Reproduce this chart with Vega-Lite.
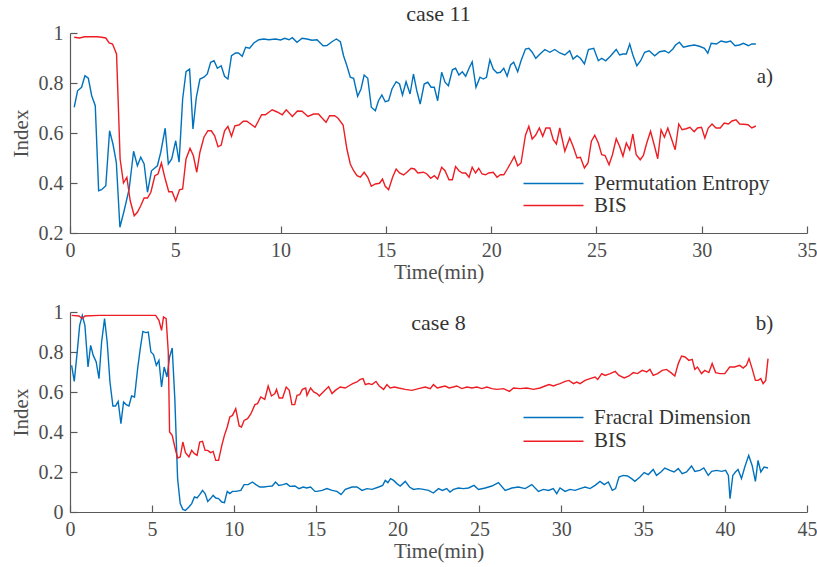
{
"$schema": "https://vega.github.io/schema/vega-lite/v6.json",
"padding": {"left": 10, "top": 3, "right": 0, "bottom": 2},
"config": {
  "font": "Liberation Serif",
  "view": {"stroke": null},
  "axis": {"grid": false, "domainColor": "#595959", "tickColor": "#595959", "domainWidth": 1.2, "tickWidth": 1.2, "tickSize": -7, "labelColor": "#4d4d4d", "labelFont": "Liberation Serif", "labelFontSize": 20, "titleFont": "Liberation Serif", "titleFontSize": 21, "titleFontWeight": "normal", "titleColor": "#4d4d4d", "labelPadding": 14, "titlePadding": 1, "labelOverlap": false, "labelFlush": false},
  "axisY": {"titlePadding": 7},
  "legend": {"labelFont": "Liberation Serif", "labelFontSize": 21, "labelColor": "#333333", "labelLimit": 400},
  "title": {"font": "Liberation Serif", "fontSize": 22, "fontWeight": "normal", "color": "#333333", "anchor": "middle", "frame": "group"},
  "text": {"font": "Liberation Serif"}
},
"datasets": {
"a": [
{"t":0.2,"v":0.703,"s":"Permutation Entropy"},{"t":0.36,"v":0.769,"s":"Permutation Entropy"},{"t":0.55,"v":0.783,"s":"Permutation Entropy"},{"t":0.71,"v":0.829,"s":"Permutation Entropy"},{"t":0.87,"v":0.819,"s":"Permutation Entropy"},{"t":1.03,"v":0.749,"s":"Permutation Entropy"},{"t":1.2,"v":0.709,"s":"Permutation Entropy"},{"t":1.36,"v":0.369,"s":"Permutation Entropy"},{"t":1.5,"v":0.373,"s":"Permutation Entropy"},{"t":1.7,"v":0.389,"s":"Permutation Entropy"},{"t":1.88,"v":0.609,"s":"Permutation Entropy"},{"t":2.04,"v":0.556,"s":"Permutation Entropy"},{"t":2.2,"v":0.483,"s":"Permutation Entropy"},{"t":2.37,"v":0.223,"s":"Permutation Entropy"},{"t":2.57,"v":0.289,"s":"Permutation Entropy"},{"t":2.81,"v":0.376,"s":"Permutation Entropy"},{"t":3.02,"v":0.527,"s":"Permutation Entropy"},{"t":3.2,"v":0.469,"s":"Permutation Entropy"},{"t":3.36,"v":0.503,"s":"Permutation Entropy"},{"t":3.52,"v":0.476,"s":"Permutation Entropy"},{"t":3.68,"v":0.363,"s":"Permutation Entropy"},{"t":3.87,"v":0.449,"s":"Permutation Entropy"},{"t":4.15,"v":0.469,"s":"Permutation Entropy"},{"t":4.31,"v":0.523,"s":"Permutation Entropy"},{"t":4.52,"v":0.619,"s":"Permutation Entropy"},{"t":4.67,"v":0.476,"s":"Permutation Entropy"},{"t":4.83,"v":0.496,"s":"Permutation Entropy"},{"t":5.02,"v":0.569,"s":"Permutation Entropy"},{"t":5.18,"v":0.483,"s":"Permutation Entropy"},{"t":5.35,"v":0.736,"s":"Permutation Entropy"},{"t":5.51,"v":0.845,"s":"Permutation Entropy"},{"t":5.68,"v":0.856,"s":"Permutation Entropy"},{"t":5.84,"v":0.616,"s":"Permutation Entropy"},{"t":6.0,"v":0.743,"s":"Permutation Entropy"},{"t":6.17,"v":0.816,"s":"Permutation Entropy"},{"t":6.36,"v":0.823,"s":"Permutation Entropy"},{"t":6.52,"v":0.836,"s":"Permutation Entropy"},{"t":6.68,"v":0.883,"s":"Permutation Entropy"},{"t":6.84,"v":0.889,"s":"Permutation Entropy"},{"t":7.0,"v":0.859,"s":"Permutation Entropy"},{"t":7.18,"v":0.869,"s":"Permutation Entropy"},{"t":7.34,"v":0.827,"s":"Permutation Entropy"},{"t":7.5,"v":0.816,"s":"Permutation Entropy"},{"t":7.67,"v":0.909,"s":"Permutation Entropy"},{"t":7.86,"v":0.92,"s":"Permutation Entropy"},{"t":8.0,"v":0.92,"s":"Permutation Entropy"},{"t":8.18,"v":0.907,"s":"Permutation Entropy"},{"t":8.34,"v":0.943,"s":"Permutation Entropy"},{"t":8.53,"v":0.939,"s":"Permutation Entropy"},{"t":8.73,"v":0.96,"s":"Permutation Entropy"},{"t":8.97,"v":0.973,"s":"Permutation Entropy"},{"t":9.2,"v":0.976,"s":"Permutation Entropy"},{"t":9.44,"v":0.973,"s":"Permutation Entropy"},{"t":9.76,"v":0.976,"s":"Permutation Entropy"},{"t":10.0,"v":0.972,"s":"Permutation Entropy"},{"t":10.2,"v":0.979,"s":"Permutation Entropy"},{"t":10.4,"v":0.973,"s":"Permutation Entropy"},{"t":10.56,"v":0.981,"s":"Permutation Entropy"},{"t":10.78,"v":0.963,"s":"Permutation Entropy"},{"t":11.02,"v":0.979,"s":"Permutation Entropy"},{"t":11.25,"v":0.976,"s":"Permutation Entropy"},{"t":11.49,"v":0.971,"s":"Permutation Entropy"},{"t":11.73,"v":0.973,"s":"Permutation Entropy"},{"t":12.02,"v":0.949,"s":"Permutation Entropy"},{"t":12.2,"v":0.95,"s":"Permutation Entropy"},{"t":12.44,"v":0.965,"s":"Permutation Entropy"},{"t":12.65,"v":0.976,"s":"Permutation Entropy"},{"t":12.84,"v":0.965,"s":"Permutation Entropy"},{"t":12.99,"v":0.909,"s":"Permutation Entropy"},{"t":13.15,"v":0.869,"s":"Permutation Entropy"},{"t":13.31,"v":0.823,"s":"Permutation Entropy"},{"t":13.47,"v":0.819,"s":"Permutation Entropy"},{"t":13.66,"v":0.747,"s":"Permutation Entropy"},{"t":13.82,"v":0.776,"s":"Permutation Entropy"},{"t":13.97,"v":0.832,"s":"Permutation Entropy"},{"t":14.14,"v":0.819,"s":"Permutation Entropy"},{"t":14.31,"v":0.703,"s":"Permutation Entropy"},{"t":14.5,"v":0.689,"s":"Permutation Entropy"},{"t":14.65,"v":0.729,"s":"Permutation Entropy"},{"t":14.81,"v":0.752,"s":"Permutation Entropy"},{"t":14.97,"v":0.725,"s":"Permutation Entropy"},{"t":15.13,"v":0.729,"s":"Permutation Entropy"},{"t":15.29,"v":0.776,"s":"Permutation Entropy"},{"t":15.49,"v":0.805,"s":"Permutation Entropy"},{"t":15.65,"v":0.796,"s":"Permutation Entropy"},{"t":15.79,"v":0.752,"s":"Permutation Entropy"},{"t":15.96,"v":0.805,"s":"Permutation Entropy"},{"t":16.15,"v":0.756,"s":"Permutation Entropy"},{"t":16.31,"v":0.836,"s":"Permutation Entropy"},{"t":16.47,"v":0.769,"s":"Permutation Entropy"},{"t":16.63,"v":0.716,"s":"Permutation Entropy"},{"t":16.82,"v":0.796,"s":"Permutation Entropy"},{"t":16.99,"v":0.803,"s":"Permutation Entropy"},{"t":17.15,"v":0.783,"s":"Permutation Entropy"},{"t":17.3,"v":0.783,"s":"Permutation Entropy"},{"t":17.46,"v":0.729,"s":"Permutation Entropy"},{"t":17.65,"v":0.843,"s":"Permutation Entropy"},{"t":17.81,"v":0.803,"s":"Permutation Entropy"},{"t":17.97,"v":0.789,"s":"Permutation Entropy"},{"t":18.16,"v":0.853,"s":"Permutation Entropy"},{"t":18.31,"v":0.859,"s":"Permutation Entropy"},{"t":18.47,"v":0.832,"s":"Permutation Entropy"},{"t":18.63,"v":0.845,"s":"Permutation Entropy"},{"t":18.79,"v":0.827,"s":"Permutation Entropy"},{"t":18.95,"v":0.859,"s":"Permutation Entropy"},{"t":19.1,"v":0.885,"s":"Permutation Entropy"},{"t":19.28,"v":0.783,"s":"Permutation Entropy"},{"t":19.47,"v":0.823,"s":"Permutation Entropy"},{"t":19.63,"v":0.816,"s":"Permutation Entropy"},{"t":19.78,"v":0.823,"s":"Permutation Entropy"},{"t":19.94,"v":0.893,"s":"Permutation Entropy"},{"t":20.1,"v":0.856,"s":"Permutation Entropy"},{"t":20.28,"v":0.84,"s":"Permutation Entropy"},{"t":20.44,"v":0.843,"s":"Permutation Entropy"},{"t":20.6,"v":0.859,"s":"Permutation Entropy"},{"t":20.76,"v":0.827,"s":"Permutation Entropy"},{"t":20.92,"v":0.872,"s":"Permutation Entropy"},{"t":21.07,"v":0.883,"s":"Permutation Entropy"},{"t":21.26,"v":0.845,"s":"Permutation Entropy"},{"t":21.42,"v":0.889,"s":"Permutation Entropy"},{"t":21.63,"v":0.936,"s":"Permutation Entropy"},{"t":21.79,"v":0.939,"s":"Permutation Entropy"},{"t":21.95,"v":0.923,"s":"Permutation Entropy"},{"t":22.12,"v":0.899,"s":"Permutation Entropy"},{"t":22.31,"v":0.915,"s":"Permutation Entropy"},{"t":22.55,"v":0.934,"s":"Permutation Entropy"},{"t":22.79,"v":0.923,"s":"Permutation Entropy"},{"t":23.02,"v":0.934,"s":"Permutation Entropy"},{"t":23.26,"v":0.92,"s":"Permutation Entropy"},{"t":23.5,"v":0.912,"s":"Permutation Entropy"},{"t":23.73,"v":0.929,"s":"Permutation Entropy"},{"t":23.89,"v":0.896,"s":"Permutation Entropy"},{"t":24.08,"v":0.909,"s":"Permutation Entropy"},{"t":24.24,"v":0.899,"s":"Permutation Entropy"},{"t":24.43,"v":0.876,"s":"Permutation Entropy"},{"t":24.62,"v":0.934,"s":"Permutation Entropy"},{"t":24.87,"v":0.939,"s":"Permutation Entropy"},{"t":25.09,"v":0.889,"s":"Permutation Entropy"},{"t":25.25,"v":0.899,"s":"Permutation Entropy"},{"t":25.44,"v":0.889,"s":"Permutation Entropy"},{"t":25.66,"v":0.907,"s":"Permutation Entropy"},{"t":25.94,"v":0.934,"s":"Permutation Entropy"},{"t":26.1,"v":0.912,"s":"Permutation Entropy"},{"t":26.26,"v":0.916,"s":"Permutation Entropy"},{"t":26.42,"v":0.916,"s":"Permutation Entropy"},{"t":26.58,"v":0.956,"s":"Permutation Entropy"},{"t":26.73,"v":0.912,"s":"Permutation Entropy"},{"t":26.92,"v":0.869,"s":"Permutation Entropy"},{"t":27.1,"v":0.889,"s":"Permutation Entropy"},{"t":27.29,"v":0.923,"s":"Permutation Entropy"},{"t":27.5,"v":0.929,"s":"Permutation Entropy"},{"t":27.77,"v":0.909,"s":"Permutation Entropy"},{"t":28.0,"v":0.925,"s":"Permutation Entropy"},{"t":28.24,"v":0.929,"s":"Permutation Entropy"},{"t":28.43,"v":0.92,"s":"Permutation Entropy"},{"t":28.63,"v":0.936,"s":"Permutation Entropy"},{"t":28.76,"v":0.952,"s":"Permutation Entropy"},{"t":28.94,"v":0.963,"s":"Permutation Entropy"},{"t":29.13,"v":0.943,"s":"Permutation Entropy"},{"t":29.42,"v":0.949,"s":"Permutation Entropy"},{"t":29.65,"v":0.952,"s":"Permutation Entropy"},{"t":29.89,"v":0.947,"s":"Permutation Entropy"},{"t":30.13,"v":0.939,"s":"Permutation Entropy"},{"t":30.29,"v":0.919,"s":"Permutation Entropy"},{"t":30.45,"v":0.959,"s":"Permutation Entropy"},{"t":30.7,"v":0.956,"s":"Permutation Entropy"},{"t":30.92,"v":0.968,"s":"Permutation Entropy"},{"t":31.16,"v":0.963,"s":"Permutation Entropy"},{"t":31.37,"v":0.968,"s":"Permutation Entropy"},{"t":31.58,"v":0.949,"s":"Permutation Entropy"},{"t":31.79,"v":0.952,"s":"Permutation Entropy"},{"t":31.98,"v":0.959,"s":"Permutation Entropy"},{"t":32.22,"v":0.949,"s":"Permutation Entropy"},{"t":32.38,"v":0.956,"s":"Permutation Entropy"},{"t":32.57,"v":0.956,"s":"Permutation Entropy"},
{"t":0.2,"v":0.983,"s":"BIS"},{"t":0.45,"v":0.98,"s":"BIS"},{"t":0.7,"v":0.985,"s":"BIS"},{"t":1.0,"v":0.985,"s":"BIS"},{"t":1.3,"v":0.985,"s":"BIS"},{"t":1.5,"v":0.983,"s":"BIS"},{"t":1.7,"v":0.98,"s":"BIS"},{"t":1.86,"v":0.96,"s":"BIS"},{"t":2.02,"v":0.956,"s":"BIS"},{"t":2.21,"v":0.916,"s":"BIS"},{"t":2.29,"v":0.723,"s":"BIS"},{"t":2.38,"v":0.496,"s":"BIS"},{"t":2.54,"v":0.4,"s":"BIS"},{"t":2.7,"v":0.423,"s":"BIS"},{"t":2.86,"v":0.329,"s":"BIS"},{"t":3.05,"v":0.269,"s":"BIS"},{"t":3.2,"v":0.283,"s":"BIS"},{"t":3.36,"v":0.309,"s":"BIS"},{"t":3.52,"v":0.34,"s":"BIS"},{"t":3.68,"v":0.34,"s":"BIS"},{"t":3.84,"v":0.363,"s":"BIS"},{"t":4.03,"v":0.429,"s":"BIS"},{"t":4.18,"v":0.436,"s":"BIS"},{"t":4.34,"v":0.48,"s":"BIS"},{"t":4.5,"v":0.423,"s":"BIS"},{"t":4.69,"v":0.365,"s":"BIS"},{"t":4.85,"v":0.365,"s":"BIS"},{"t":5.02,"v":0.329,"s":"BIS"},{"t":5.2,"v":0.373,"s":"BIS"},{"t":5.35,"v":0.376,"s":"BIS"},{"t":5.51,"v":0.496,"s":"BIS"},{"t":5.7,"v":0.539,"s":"BIS"},{"t":5.86,"v":0.509,"s":"BIS"},{"t":6.02,"v":0.443,"s":"BIS"},{"t":6.17,"v":0.523,"s":"BIS"},{"t":6.36,"v":0.583,"s":"BIS"},{"t":6.55,"v":0.609,"s":"BIS"},{"t":6.71,"v":0.609,"s":"BIS"},{"t":6.87,"v":0.589,"s":"BIS"},{"t":7.03,"v":0.545,"s":"BIS"},{"t":7.18,"v":0.552,"s":"BIS"},{"t":7.34,"v":0.609,"s":"BIS"},{"t":7.5,"v":0.626,"s":"BIS"},{"t":7.67,"v":0.587,"s":"BIS"},{"t":7.83,"v":0.629,"s":"BIS"},{"t":8.02,"v":0.632,"s":"BIS"},{"t":8.23,"v":0.647,"s":"BIS"},{"t":8.4,"v":0.647,"s":"BIS"},{"t":8.79,"v":0.623,"s":"BIS"},{"t":9.1,"v":0.673,"s":"BIS"},{"t":9.28,"v":0.673,"s":"BIS"},{"t":9.6,"v":0.693,"s":"BIS"},{"t":9.84,"v":0.684,"s":"BIS"},{"t":10.08,"v":0.673,"s":"BIS"},{"t":10.27,"v":0.693,"s":"BIS"},{"t":10.56,"v":0.666,"s":"BIS"},{"t":10.8,"v":0.688,"s":"BIS"},{"t":11.02,"v":0.687,"s":"BIS"},{"t":11.3,"v":0.666,"s":"BIS"},{"t":11.57,"v":0.676,"s":"BIS"},{"t":11.8,"v":0.676,"s":"BIS"},{"t":11.97,"v":0.66,"s":"BIS"},{"t":12.16,"v":0.643,"s":"BIS"},{"t":12.33,"v":0.669,"s":"BIS"},{"t":12.56,"v":0.669,"s":"BIS"},{"t":12.72,"v":0.66,"s":"BIS"},{"t":12.97,"v":0.632,"s":"BIS"},{"t":13.15,"v":0.536,"s":"BIS"},{"t":13.31,"v":0.476,"s":"BIS"},{"t":13.47,"v":0.449,"s":"BIS"},{"t":13.63,"v":0.429,"s":"BIS"},{"t":13.79,"v":0.423,"s":"BIS"},{"t":13.97,"v":0.443,"s":"BIS"},{"t":14.14,"v":0.423,"s":"BIS"},{"t":14.31,"v":0.387,"s":"BIS"},{"t":14.5,"v":0.396,"s":"BIS"},{"t":14.7,"v":0.399,"s":"BIS"},{"t":14.84,"v":0.416,"s":"BIS"},{"t":14.97,"v":0.387,"s":"BIS"},{"t":15.13,"v":0.373,"s":"BIS"},{"t":15.32,"v":0.423,"s":"BIS"},{"t":15.49,"v":0.456,"s":"BIS"},{"t":15.65,"v":0.44,"s":"BIS"},{"t":15.84,"v":0.432,"s":"BIS"},{"t":16.0,"v":0.443,"s":"BIS"},{"t":16.2,"v":0.459,"s":"BIS"},{"t":16.36,"v":0.456,"s":"BIS"},{"t":16.52,"v":0.44,"s":"BIS"},{"t":16.79,"v":0.443,"s":"BIS"},{"t":16.95,"v":0.436,"s":"BIS"},{"t":17.13,"v":0.419,"s":"BIS"},{"t":17.3,"v":0.429,"s":"BIS"},{"t":17.46,"v":0.416,"s":"BIS"},{"t":17.65,"v":0.463,"s":"BIS"},{"t":17.81,"v":0.449,"s":"BIS"},{"t":18.0,"v":0.413,"s":"BIS"},{"t":18.16,"v":0.413,"s":"BIS"},{"t":18.31,"v":0.466,"s":"BIS"},{"t":18.47,"v":0.449,"s":"BIS"},{"t":18.63,"v":0.44,"s":"BIS"},{"t":18.79,"v":0.44,"s":"BIS"},{"t":18.95,"v":0.423,"s":"BIS"},{"t":19.1,"v":0.463,"s":"BIS"},{"t":19.26,"v":0.44,"s":"BIS"},{"t":19.41,"v":0.459,"s":"BIS"},{"t":19.57,"v":0.436,"s":"BIS"},{"t":19.73,"v":0.433,"s":"BIS"},{"t":19.89,"v":0.44,"s":"BIS"},{"t":20.1,"v":0.443,"s":"BIS"},{"t":20.28,"v":0.423,"s":"BIS"},{"t":20.44,"v":0.433,"s":"BIS"},{"t":20.6,"v":0.433,"s":"BIS"},{"t":20.79,"v":0.459,"s":"BIS"},{"t":20.95,"v":0.483,"s":"BIS"},{"t":21.1,"v":0.506,"s":"BIS"},{"t":21.26,"v":0.469,"s":"BIS"},{"t":21.42,"v":0.48,"s":"BIS"},{"t":21.63,"v":0.591,"s":"BIS"},{"t":21.79,"v":0.627,"s":"BIS"},{"t":21.95,"v":0.576,"s":"BIS"},{"t":22.11,"v":0.591,"s":"BIS"},{"t":22.29,"v":0.62,"s":"BIS"},{"t":22.45,"v":0.587,"s":"BIS"},{"t":22.6,"v":0.62,"s":"BIS"},{"t":22.79,"v":0.62,"s":"BIS"},{"t":22.95,"v":0.573,"s":"BIS"},{"t":23.1,"v":0.556,"s":"BIS"},{"t":23.26,"v":0.62,"s":"BIS"},{"t":23.5,"v":0.527,"s":"BIS"},{"t":23.73,"v":0.58,"s":"BIS"},{"t":23.89,"v":0.547,"s":"BIS"},{"t":24.08,"v":0.5,"s":"BIS"},{"t":24.24,"v":0.503,"s":"BIS"},{"t":24.43,"v":0.46,"s":"BIS"},{"t":24.6,"v":0.48,"s":"BIS"},{"t":24.76,"v":0.567,"s":"BIS"},{"t":24.92,"v":0.591,"s":"BIS"},{"t":25.09,"v":0.56,"s":"BIS"},{"t":25.25,"v":0.513,"s":"BIS"},{"t":25.41,"v":0.51,"s":"BIS"},{"t":25.6,"v":0.473,"s":"BIS"},{"t":25.76,"v":0.513,"s":"BIS"},{"t":25.94,"v":0.577,"s":"BIS"},{"t":26.1,"v":0.547,"s":"BIS"},{"t":26.26,"v":0.507,"s":"BIS"},{"t":26.42,"v":0.56,"s":"BIS"},{"t":26.58,"v":0.533,"s":"BIS"},{"t":26.73,"v":0.596,"s":"BIS"},{"t":26.89,"v":0.513,"s":"BIS"},{"t":27.08,"v":0.493,"s":"BIS"},{"t":27.23,"v":0.51,"s":"BIS"},{"t":27.39,"v":0.56,"s":"BIS"},{"t":27.57,"v":0.607,"s":"BIS"},{"t":27.76,"v":0.547,"s":"BIS"},{"t":27.91,"v":0.497,"s":"BIS"},{"t":28.07,"v":0.613,"s":"BIS"},{"t":28.23,"v":0.583,"s":"BIS"},{"t":28.39,"v":0.62,"s":"BIS"},{"t":28.58,"v":0.573,"s":"BIS"},{"t":28.74,"v":0.533,"s":"BIS"},{"t":28.91,"v":0.636,"s":"BIS"},{"t":29.07,"v":0.613,"s":"BIS"},{"t":29.26,"v":0.617,"s":"BIS"},{"t":29.44,"v":0.623,"s":"BIS"},{"t":29.64,"v":0.605,"s":"BIS"},{"t":29.8,"v":0.62,"s":"BIS"},{"t":29.99,"v":0.623,"s":"BIS"},{"t":30.15,"v":0.58,"s":"BIS"},{"t":30.31,"v":0.62,"s":"BIS"},{"t":30.49,"v":0.636,"s":"BIS"},{"t":30.68,"v":0.62,"s":"BIS"},{"t":30.88,"v":0.62,"s":"BIS"},{"t":31.07,"v":0.64,"s":"BIS"},{"t":31.27,"v":0.636,"s":"BIS"},{"t":31.44,"v":0.648,"s":"BIS"},{"t":31.63,"v":0.653,"s":"BIS"},{"t":31.8,"v":0.636,"s":"BIS"},{"t":31.99,"v":0.635,"s":"BIS"},{"t":32.2,"v":0.633,"s":"BIS"},{"t":32.38,"v":0.62,"s":"BIS"},{"t":32.57,"v":0.628,"s":"BIS"}
],
"b": [
{"t":0.1,"v":0.733,"s":"Fracral Dimension"},{"t":0.26,"v":0.653,"s":"Fracral Dimension"},{"t":0.45,"v":0.808,"s":"Fracral Dimension"},{"t":0.59,"v":0.933,"s":"Fracral Dimension"},{"t":0.75,"v":0.983,"s":"Fracral Dimension"},{"t":0.91,"v":0.933,"s":"Fracral Dimension"},{"t":1.1,"v":0.725,"s":"Fracral Dimension"},{"t":1.26,"v":0.833,"s":"Fracral Dimension"},{"t":1.42,"v":0.783,"s":"Fracral Dimension"},{"t":1.6,"v":0.75,"s":"Fracral Dimension"},{"t":1.77,"v":0.667,"s":"Fracral Dimension"},{"t":1.93,"v":0.85,"s":"Fracral Dimension"},{"t":2.11,"v":0.967,"s":"Fracral Dimension"},{"t":2.27,"v":0.85,"s":"Fracral Dimension"},{"t":2.44,"v":0.65,"s":"Fracral Dimension"},{"t":2.62,"v":0.53,"s":"Fracral Dimension"},{"t":2.78,"v":0.53,"s":"Fracral Dimension"},{"t":2.94,"v":0.553,"s":"Fracral Dimension"},{"t":3.11,"v":0.442,"s":"Fracral Dimension"},{"t":3.27,"v":0.55,"s":"Fracral Dimension"},{"t":3.43,"v":0.537,"s":"Fracral Dimension"},{"t":3.6,"v":0.53,"s":"Fracral Dimension"},{"t":3.76,"v":0.58,"s":"Fracral Dimension"},{"t":3.94,"v":0.575,"s":"Fracral Dimension"},{"t":4.13,"v":0.717,"s":"Fracral Dimension"},{"t":4.29,"v":0.817,"s":"Fracral Dimension"},{"t":4.45,"v":0.903,"s":"Fracral Dimension"},{"t":4.62,"v":0.897,"s":"Fracral Dimension"},{"t":4.78,"v":0.9,"s":"Fracral Dimension"},{"t":4.94,"v":0.8,"s":"Fracral Dimension"},{"t":5.1,"v":0.787,"s":"Fracral Dimension"},{"t":5.27,"v":0.733,"s":"Fracral Dimension"},{"t":5.43,"v":0.758,"s":"Fracral Dimension"},{"t":5.59,"v":0.625,"s":"Fracral Dimension"},{"t":5.75,"v":0.725,"s":"Fracral Dimension"},{"t":5.92,"v":0.675,"s":"Fracral Dimension"},{"t":6.08,"v":0.775,"s":"Fracral Dimension"},{"t":6.24,"v":0.82,"s":"Fracral Dimension"},{"t":6.4,"v":0.567,"s":"Fracral Dimension"},{"t":6.57,"v":0.167,"s":"Fracral Dimension"},{"t":6.73,"v":0.042,"s":"Fracral Dimension"},{"t":6.89,"v":0.013,"s":"Fracral Dimension"},{"t":7.05,"v":0.008,"s":"Fracral Dimension"},{"t":7.26,"v":0.025,"s":"Fracral Dimension"},{"t":7.43,"v":0.042,"s":"Fracral Dimension"},{"t":7.6,"v":0.075,"s":"Fracral Dimension"},{"t":7.76,"v":0.07,"s":"Fracral Dimension"},{"t":7.92,"v":0.087,"s":"Fracral Dimension"},{"t":8.09,"v":0.108,"s":"Fracral Dimension"},{"t":8.25,"v":0.092,"s":"Fracral Dimension"},{"t":8.41,"v":0.053,"s":"Fracral Dimension"},{"t":8.58,"v":0.067,"s":"Fracral Dimension"},{"t":8.74,"v":0.083,"s":"Fracral Dimension"},{"t":8.9,"v":0.07,"s":"Fracral Dimension"},{"t":9.07,"v":0.067,"s":"Fracral Dimension"},{"t":9.27,"v":0.05,"s":"Fracral Dimension"},{"t":9.43,"v":0.047,"s":"Fracral Dimension"},{"t":9.6,"v":0.103,"s":"Fracral Dimension"},{"t":9.76,"v":0.092,"s":"Fracral Dimension"},{"t":9.92,"v":0.103,"s":"Fracral Dimension"},{"t":10.12,"v":0.103,"s":"Fracral Dimension"},{"t":10.43,"v":0.108,"s":"Fracral Dimension"},{"t":10.63,"v":0.137,"s":"Fracral Dimension"},{"t":10.88,"v":0.137,"s":"Fracral Dimension"},{"t":11.14,"v":0.15,"s":"Fracral Dimension"},{"t":11.35,"v":0.137,"s":"Fracral Dimension"},{"t":11.59,"v":0.125,"s":"Fracral Dimension"},{"t":11.84,"v":0.125,"s":"Fracral Dimension"},{"t":12.1,"v":0.128,"s":"Fracral Dimension"},{"t":12.35,"v":0.13,"s":"Fracral Dimension"},{"t":12.55,"v":0.15,"s":"Fracral Dimension"},{"t":12.75,"v":0.133,"s":"Fracral Dimension"},{"t":13.0,"v":0.137,"s":"Fracral Dimension"},{"t":13.22,"v":0.142,"s":"Fracral Dimension"},{"t":13.43,"v":0.128,"s":"Fracral Dimension"},{"t":13.73,"v":0.13,"s":"Fracral Dimension"},{"t":13.98,"v":0.117,"s":"Fracral Dimension"},{"t":14.24,"v":0.125,"s":"Fracral Dimension"},{"t":14.45,"v":0.12,"s":"Fracral Dimension"},{"t":14.69,"v":0.125,"s":"Fracral Dimension"},{"t":14.96,"v":0.103,"s":"Fracral Dimension"},{"t":15.08,"v":0.103,"s":"Fracral Dimension"},{"t":15.39,"v":0.108,"s":"Fracral Dimension"},{"t":15.69,"v":0.117,"s":"Fracral Dimension"},{"t":16.0,"v":0.108,"s":"Fracral Dimension"},{"t":16.3,"v":0.103,"s":"Fracral Dimension"},{"t":16.55,"v":0.087,"s":"Fracral Dimension"},{"t":16.81,"v":0.113,"s":"Fracral Dimension"},{"t":17.22,"v":0.125,"s":"Fracral Dimension"},{"t":17.52,"v":0.125,"s":"Fracral Dimension"},{"t":17.83,"v":0.108,"s":"Fracral Dimension"},{"t":18.13,"v":0.117,"s":"Fracral Dimension"},{"t":18.44,"v":0.113,"s":"Fracral Dimension"},{"t":18.85,"v":0.125,"s":"Fracral Dimension"},{"t":19.09,"v":0.133,"s":"Fracral Dimension"},{"t":19.25,"v":0.158,"s":"Fracral Dimension"},{"t":19.41,"v":0.147,"s":"Fracral Dimension"},{"t":19.57,"v":0.167,"s":"Fracral Dimension"},{"t":19.76,"v":0.158,"s":"Fracral Dimension"},{"t":19.96,"v":0.142,"s":"Fracral Dimension"},{"t":20.16,"v":0.13,"s":"Fracral Dimension"},{"t":20.47,"v":0.153,"s":"Fracral Dimension"},{"t":20.73,"v":0.125,"s":"Fracral Dimension"},{"t":20.97,"v":0.113,"s":"Fracral Dimension"},{"t":21.28,"v":0.117,"s":"Fracral Dimension"},{"t":21.58,"v":0.113,"s":"Fracral Dimension"},{"t":21.89,"v":0.108,"s":"Fracral Dimension"},{"t":22.19,"v":0.095,"s":"Fracral Dimension"},{"t":22.5,"v":0.117,"s":"Fracral Dimension"},{"t":22.74,"v":0.108,"s":"Fracral Dimension"},{"t":23.0,"v":0.117,"s":"Fracral Dimension"},{"t":23.2,"v":0.1,"s":"Fracral Dimension"},{"t":23.42,"v":0.113,"s":"Fracral Dimension"},{"t":23.72,"v":0.12,"s":"Fracral Dimension"},{"t":24.02,"v":0.117,"s":"Fracral Dimension"},{"t":24.33,"v":0.12,"s":"Fracral Dimension"},{"t":24.67,"v":0.133,"s":"Fracral Dimension"},{"t":24.94,"v":0.113,"s":"Fracral Dimension"},{"t":25.35,"v":0.12,"s":"Fracral Dimension"},{"t":25.76,"v":0.13,"s":"Fracral Dimension"},{"t":26.16,"v":0.147,"s":"Fracral Dimension"},{"t":26.57,"v":0.108,"s":"Fracral Dimension"},{"t":26.98,"v":0.12,"s":"Fracral Dimension"},{"t":27.38,"v":0.125,"s":"Fracral Dimension"},{"t":27.79,"v":0.117,"s":"Fracral Dimension"},{"t":28.2,"v":0.137,"s":"Fracral Dimension"},{"t":28.6,"v":0.103,"s":"Fracral Dimension"},{"t":28.91,"v":0.113,"s":"Fracral Dimension"},{"t":29.21,"v":0.108,"s":"Fracral Dimension"},{"t":29.51,"v":0.117,"s":"Fracral Dimension"},{"t":29.72,"v":0.092,"s":"Fracral Dimension"},{"t":29.92,"v":0.12,"s":"Fracral Dimension"},{"t":30.23,"v":0.103,"s":"Fracral Dimension"},{"t":30.53,"v":0.113,"s":"Fracral Dimension"},{"t":30.84,"v":0.108,"s":"Fracral Dimension"},{"t":31.14,"v":0.117,"s":"Fracral Dimension"},{"t":31.45,"v":0.125,"s":"Fracral Dimension"},{"t":31.75,"v":0.117,"s":"Fracral Dimension"},{"t":32.06,"v":0.133,"s":"Fracral Dimension"},{"t":32.36,"v":0.153,"s":"Fracral Dimension"},{"t":32.62,"v":0.137,"s":"Fracral Dimension"},{"t":32.87,"v":0.15,"s":"Fracral Dimension"},{"t":33.11,"v":0.108,"s":"Fracral Dimension"},{"t":33.31,"v":0.117,"s":"Fracral Dimension"},{"t":33.52,"v":0.175,"s":"Fracral Dimension"},{"t":33.78,"v":0.183,"s":"Fracral Dimension"},{"t":34.04,"v":0.18,"s":"Fracral Dimension"},{"t":34.29,"v":0.167,"s":"Fracral Dimension"},{"t":34.49,"v":0.153,"s":"Fracral Dimension"},{"t":34.8,"v":0.175,"s":"Fracral Dimension"},{"t":35.06,"v":0.197,"s":"Fracral Dimension"},{"t":35.31,"v":0.187,"s":"Fracral Dimension"},{"t":35.61,"v":0.213,"s":"Fracral Dimension"},{"t":35.81,"v":0.183,"s":"Fracral Dimension"},{"t":36.08,"v":0.2,"s":"Fracral Dimension"},{"t":36.32,"v":0.22,"s":"Fracral Dimension"},{"t":36.63,"v":0.208,"s":"Fracral Dimension"},{"t":36.88,"v":0.2,"s":"Fracral Dimension"},{"t":37.14,"v":0.217,"s":"Fracral Dimension"},{"t":37.38,"v":0.192,"s":"Fracral Dimension"},{"t":37.65,"v":0.2,"s":"Fracral Dimension"},{"t":37.95,"v":0.23,"s":"Fracral Dimension"},{"t":38.15,"v":0.203,"s":"Fracral Dimension"},{"t":38.46,"v":0.208,"s":"Fracral Dimension"},{"t":38.7,"v":0.22,"s":"Fracral Dimension"},{"t":38.97,"v":0.183,"s":"Fracral Dimension"},{"t":39.18,"v":0.203,"s":"Fracral Dimension"},{"t":39.48,"v":0.208,"s":"Fracral Dimension"},{"t":39.79,"v":0.203,"s":"Fracral Dimension"},{"t":40.03,"v":0.208,"s":"Fracral Dimension"},{"t":40.2,"v":0.183,"s":"Fracral Dimension"},{"t":40.3,"v":0.067,"s":"Fracral Dimension"},{"t":40.47,"v":0.183,"s":"Fracral Dimension"},{"t":40.63,"v":0.2,"s":"Fracral Dimension"},{"t":40.79,"v":0.213,"s":"Fracral Dimension"},{"t":41.0,"v":0.167,"s":"Fracral Dimension"},{"t":41.2,"v":0.225,"s":"Fracral Dimension"},{"t":41.44,"v":0.283,"s":"Fracral Dimension"},{"t":41.65,"v":0.233,"s":"Fracral Dimension"},{"t":41.85,"v":0.153,"s":"Fracral Dimension"},{"t":42.01,"v":0.258,"s":"Fracral Dimension"},{"t":42.18,"v":0.2,"s":"Fracral Dimension"},{"t":42.38,"v":0.225,"s":"Fracral Dimension"},{"t":42.62,"v":0.22,"s":"Fracral Dimension"},
{"t":0.1,"v":0.983,"s":"BIS"},{"t":0.55,"v":0.98,"s":"BIS"},{"t":0.75,"v":0.967,"s":"BIS"},{"t":0.91,"v":0.98,"s":"BIS"},{"t":1.77,"v":0.983,"s":"BIS"},{"t":2.6,"v":0.983,"s":"BIS"},{"t":3.4,"v":0.983,"s":"BIS"},{"t":4.3,"v":0.983,"s":"BIS"},{"t":5.23,"v":0.983,"s":"BIS"},{"t":5.43,"v":0.958,"s":"BIS"},{"t":5.59,"v":0.908,"s":"BIS"},{"t":5.71,"v":0.975,"s":"BIS"},{"t":5.87,"v":0.967,"s":"BIS"},{"t":6.0,"v":0.8,"s":"BIS"},{"t":6.08,"v":0.4,"s":"BIS"},{"t":6.24,"v":0.383,"s":"BIS"},{"t":6.4,"v":0.325,"s":"BIS"},{"t":6.57,"v":0.27,"s":"BIS"},{"t":6.73,"v":0.275,"s":"BIS"},{"t":6.89,"v":0.35,"s":"BIS"},{"t":7.05,"v":0.297,"s":"BIS"},{"t":7.26,"v":0.275,"s":"BIS"},{"t":7.43,"v":0.308,"s":"BIS"},{"t":7.6,"v":0.292,"s":"BIS"},{"t":7.76,"v":0.283,"s":"BIS"},{"t":7.92,"v":0.35,"s":"BIS"},{"t":8.09,"v":0.353,"s":"BIS"},{"t":8.25,"v":0.308,"s":"BIS"},{"t":8.41,"v":0.308,"s":"BIS"},{"t":8.58,"v":0.297,"s":"BIS"},{"t":8.74,"v":0.303,"s":"BIS"},{"t":8.9,"v":0.258,"s":"BIS"},{"t":9.07,"v":0.258,"s":"BIS"},{"t":9.27,"v":0.333,"s":"BIS"},{"t":9.43,"v":0.383,"s":"BIS"},{"t":9.6,"v":0.425,"s":"BIS"},{"t":9.76,"v":0.475,"s":"BIS"},{"t":9.92,"v":0.483,"s":"BIS"},{"t":10.12,"v":0.517,"s":"BIS"},{"t":10.33,"v":0.43,"s":"BIS"},{"t":10.47,"v":0.425,"s":"BIS"},{"t":10.63,"v":0.458,"s":"BIS"},{"t":10.84,"v":0.467,"s":"BIS"},{"t":11.04,"v":0.49,"s":"BIS"},{"t":11.29,"v":0.537,"s":"BIS"},{"t":11.45,"v":0.542,"s":"BIS"},{"t":11.65,"v":0.575,"s":"BIS"},{"t":11.89,"v":0.563,"s":"BIS"},{"t":12.1,"v":0.63,"s":"BIS"},{"t":12.3,"v":0.58,"s":"BIS"},{"t":12.51,"v":0.592,"s":"BIS"},{"t":12.61,"v":0.613,"s":"BIS"},{"t":12.77,"v":0.57,"s":"BIS"},{"t":12.98,"v":0.57,"s":"BIS"},{"t":13.2,"v":0.625,"s":"BIS"},{"t":13.39,"v":0.608,"s":"BIS"},{"t":13.55,"v":0.537,"s":"BIS"},{"t":13.72,"v":0.537,"s":"BIS"},{"t":13.86,"v":0.583,"s":"BIS"},{"t":14.03,"v":0.587,"s":"BIS"},{"t":14.19,"v":0.613,"s":"BIS"},{"t":14.39,"v":0.62,"s":"BIS"},{"t":14.47,"v":0.583,"s":"BIS"},{"t":14.69,"v":0.62,"s":"BIS"},{"t":14.88,"v":0.6,"s":"BIS"},{"t":15.08,"v":0.592,"s":"BIS"},{"t":15.22,"v":0.58,"s":"BIS"},{"t":15.49,"v":0.603,"s":"BIS"},{"t":15.79,"v":0.627,"s":"BIS"},{"t":16.0,"v":0.592,"s":"BIS"},{"t":16.2,"v":0.608,"s":"BIS"},{"t":16.5,"v":0.625,"s":"BIS"},{"t":16.81,"v":0.62,"s":"BIS"},{"t":17.01,"v":0.63,"s":"BIS"},{"t":17.26,"v":0.642,"s":"BIS"},{"t":17.52,"v":0.65,"s":"BIS"},{"t":17.72,"v":0.663,"s":"BIS"},{"t":17.89,"v":0.667,"s":"BIS"},{"t":18.03,"v":0.637,"s":"BIS"},{"t":18.23,"v":0.642,"s":"BIS"},{"t":18.44,"v":0.637,"s":"BIS"},{"t":18.68,"v":0.653,"s":"BIS"},{"t":18.88,"v":0.63,"s":"BIS"},{"t":19.15,"v":0.613,"s":"BIS"},{"t":19.35,"v":0.637,"s":"BIS"},{"t":19.55,"v":0.62,"s":"BIS"},{"t":19.82,"v":0.625,"s":"BIS"},{"t":20.06,"v":0.62,"s":"BIS"},{"t":20.47,"v":0.613,"s":"BIS"},{"t":20.87,"v":0.608,"s":"BIS"},{"t":21.28,"v":0.617,"s":"BIS"},{"t":21.69,"v":0.625,"s":"BIS"},{"t":22.0,"v":0.617,"s":"BIS"},{"t":22.19,"v":0.637,"s":"BIS"},{"t":22.43,"v":0.62,"s":"BIS"},{"t":22.66,"v":0.625,"s":"BIS"},{"t":22.9,"v":0.63,"s":"BIS"},{"t":23.15,"v":0.62,"s":"BIS"},{"t":23.4,"v":0.625,"s":"BIS"},{"t":23.62,"v":0.63,"s":"BIS"},{"t":23.92,"v":0.617,"s":"BIS"},{"t":24.23,"v":0.625,"s":"BIS"},{"t":24.54,"v":0.62,"s":"BIS"},{"t":24.84,"v":0.625,"s":"BIS"},{"t":25.15,"v":0.617,"s":"BIS"},{"t":25.45,"v":0.625,"s":"BIS"},{"t":25.76,"v":0.617,"s":"BIS"},{"t":26.06,"v":0.613,"s":"BIS"},{"t":26.47,"v":0.617,"s":"BIS"},{"t":26.83,"v":0.603,"s":"BIS"},{"t":27.08,"v":0.62,"s":"BIS"},{"t":27.48,"v":0.617,"s":"BIS"},{"t":27.89,"v":0.62,"s":"BIS"},{"t":28.3,"v":0.613,"s":"BIS"},{"t":28.7,"v":0.62,"s":"BIS"},{"t":29.01,"v":0.63,"s":"BIS"},{"t":29.25,"v":0.637,"s":"BIS"},{"t":29.52,"v":0.63,"s":"BIS"},{"t":29.72,"v":0.637,"s":"BIS"},{"t":29.92,"v":0.642,"s":"BIS"},{"t":30.23,"v":0.653,"s":"BIS"},{"t":30.47,"v":0.658,"s":"BIS"},{"t":30.74,"v":0.642,"s":"BIS"},{"t":30.94,"v":0.65,"s":"BIS"},{"t":31.14,"v":0.642,"s":"BIS"},{"t":31.45,"v":0.658,"s":"BIS"},{"t":31.75,"v":0.667,"s":"BIS"},{"t":32.06,"v":0.675,"s":"BIS"},{"t":32.22,"v":0.663,"s":"BIS"},{"t":32.47,"v":0.692,"s":"BIS"},{"t":32.67,"v":0.683,"s":"BIS"},{"t":32.98,"v":0.692,"s":"BIS"},{"t":33.29,"v":0.703,"s":"BIS"},{"t":33.52,"v":0.683,"s":"BIS"},{"t":33.84,"v":0.67,"s":"BIS"},{"t":34.13,"v":0.68,"s":"BIS"},{"t":34.39,"v":0.697,"s":"BIS"},{"t":34.65,"v":0.692,"s":"BIS"},{"t":34.94,"v":0.708,"s":"BIS"},{"t":35.21,"v":0.7,"s":"BIS"},{"t":35.41,"v":0.713,"s":"BIS"},{"t":35.61,"v":0.683,"s":"BIS"},{"t":35.88,"v":0.692,"s":"BIS"},{"t":36.16,"v":0.708,"s":"BIS"},{"t":36.42,"v":0.713,"s":"BIS"},{"t":36.69,"v":0.697,"s":"BIS"},{"t":36.93,"v":0.68,"s":"BIS"},{"t":37.14,"v":0.742,"s":"BIS"},{"t":37.34,"v":0.78,"s":"BIS"},{"t":37.55,"v":0.775,"s":"BIS"},{"t":37.79,"v":0.758,"s":"BIS"},{"t":37.99,"v":0.763,"s":"BIS"},{"t":38.15,"v":0.713,"s":"BIS"},{"t":38.31,"v":0.725,"s":"BIS"},{"t":38.56,"v":0.692,"s":"BIS"},{"t":38.76,"v":0.708,"s":"BIS"},{"t":39.01,"v":0.697,"s":"BIS"},{"t":39.21,"v":0.742,"s":"BIS"},{"t":39.42,"v":0.697,"s":"BIS"},{"t":39.68,"v":0.692,"s":"BIS"},{"t":39.98,"v":0.692,"s":"BIS"},{"t":40.28,"v":0.725,"s":"BIS"},{"t":40.58,"v":0.725,"s":"BIS"},{"t":40.89,"v":0.733,"s":"BIS"},{"t":41.1,"v":0.72,"s":"BIS"},{"t":41.3,"v":0.733,"s":"BIS"},{"t":41.46,"v":0.767,"s":"BIS"},{"t":41.65,"v":0.717,"s":"BIS"},{"t":41.85,"v":0.658,"s":"BIS"},{"t":42.01,"v":0.658,"s":"BIS"},{"t":42.18,"v":0.667,"s":"BIS"},{"t":42.32,"v":0.642,"s":"BIS"},{"t":42.48,"v":0.658,"s":"BIS"},{"t":42.62,"v":0.767,"s":"BIS"}
],
"la": [{"t":33.0,"v":0.8,"label":"a)"}],
"lb": [{"t":42.4,"v":0.91,"label":"b)"}]
},
"vconcat": [
{
  "width": 737, "height": 200,
  "title": {"text": "case 11", "offset": -3},
  "layer": [
    {
      "data": {"name": "a"},
      "mark": {"type": "line", "strokeWidth": 1.4},
      "encoding": {
        "x": {"field": "t", "type": "quantitative", "scale": {"domain": [0, 35], "nice": false}, "axis": {"title": "Time(min)", "values": [0,5,10,15,20,25,30,35], "tickCount": 20, "labelOverlap": false}},
        "y": {"field": "v", "type": "quantitative", "scale": {"domain": [0.2, 1], "nice": false, "zero": false}, "axis": {"title": "Index", "values": [0.2,0.4,0.6,0.8,1], "tickCount": 10, "format": ".1~f", "labelOverlap": false}},
        "color": {"field": "s", "type": "nominal", "scale": {"domain": ["Permutation Entropy", "BIS"], "range": ["#0072BD", "#EE1D23"]}, "legend": {"title": null, "orient": "none", "legendX": 473, "legendY": 140, "symbolType": "M-15,0H15", "symbolSize": 16, "symbolStrokeWidth": 1.4, "labelOffset": 30, "rowPadding": 0}}
      }
    },
    {
      "data": {"name": "la"},
      "mark": {"type": "text", "fontSize": 21, "baseline": "alphabetic", "align": "center", "color": "#333333"},
      "encoding": {
        "x": {"field": "t", "type": "quantitative"},
        "y": {"field": "v", "type": "quantitative"},
        "text": {"field": "label"}
      }
    }
  ]
},
{
  "width": 737, "height": 200,
  "title": {"text": "case 8", "offset": -50, "baseline": "alphabetic"},
  "layer": [
    {
      "data": {"name": "b"},
      "mark": {"type": "line", "strokeWidth": 1.4},
      "encoding": {
        "x": {"field": "t", "type": "quantitative", "scale": {"domain": [0, 45], "nice": false}, "axis": {"title": "Time(min)", "values": [0,5,10,15,20,25,30,35,40,45], "tickCount": 20, "labelOverlap": false}},
        "y": {"field": "v", "type": "quantitative", "scale": {"domain": [0, 1], "nice": false}, "axis": {"title": "Index", "values": [0,0.2,0.4,0.6,0.8,1], "tickCount": 10, "format": ".1~f", "labelOverlap": false}},
        "color": {"field": "s", "type": "nominal", "scale": {"domain": ["Fracral Dimension", "BIS"], "range": ["#0072BD", "#EE1D23"]}, "legend": {"title": null, "orient": "none", "legendX": 473, "legendY": 95, "symbolType": "M-15,0H15", "symbolSize": 16, "symbolStrokeWidth": 1.4, "labelOffset": 30, "rowPadding": 1.7}}
      }
    },
    {
      "data": {"name": "lb"},
      "mark": {"type": "text", "fontSize": 21, "baseline": "alphabetic", "align": "center", "color": "#333333"},
      "encoding": {
        "x": {"field": "t", "type": "quantitative"},
        "y": {"field": "v", "type": "quantitative"},
        "text": {"field": "label"}
      }
    }
  ]
}
],
"spacing": 20,
"resolve": {"scale": {"color": "independent", "x": "independent", "y": "independent"}, "legend": {"color": "independent"}}
}
